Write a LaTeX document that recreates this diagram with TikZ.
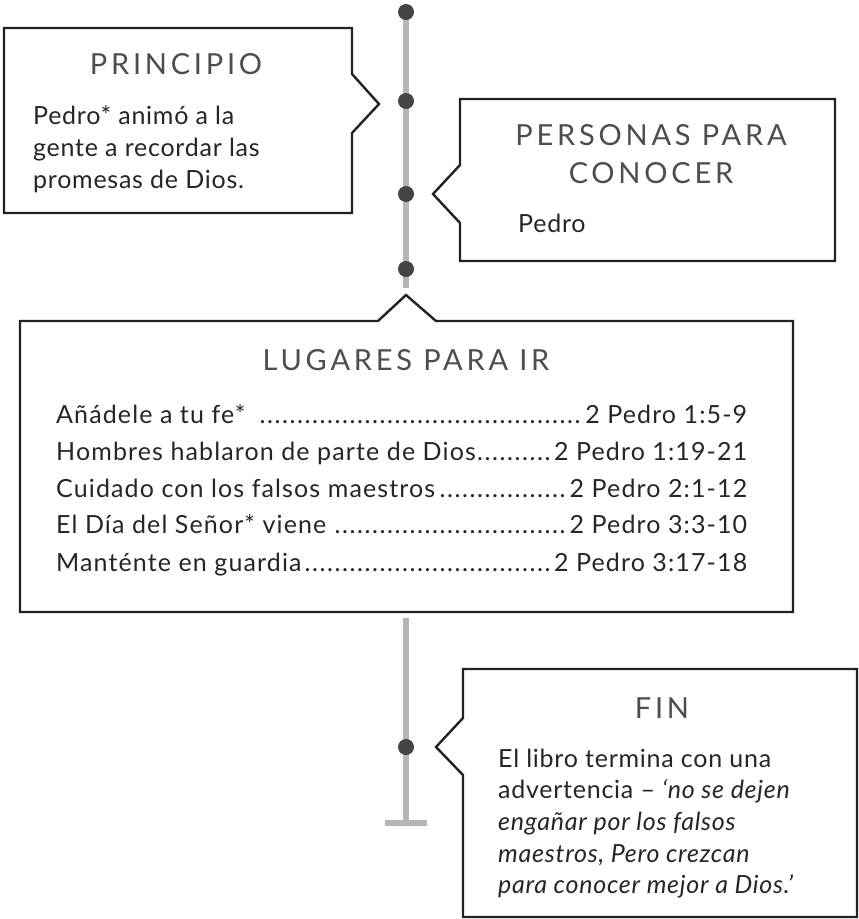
\documentclass[tikz,border=0pt]{standalone}
\usepackage{fontspec}
\setmainfont{Lato}[LetterSpace=3]
\newfontfamily\titlefont[LetterSpace=13]{Lato}
\newfontfamily\rowfont[LetterSpace=4.5]{Lato}
\newcommand\leaderdots{\leaders\hbox to 7.5pt{\hss.\hss}\hfill}
\definecolor{boxc}{HTML}{222222}
\definecolor{linec}{HTML}{B5B5B5}
\definecolor{dotc}{HTML}{444444}
\definecolor{titlec}{HTML}{4D4D4D}
\definecolor{bodyc}{HTML}{262626}
\tikzset{
  box/.style={draw=boxc, line width=2.4pt, line join=miter, fill=white},
  timeline/.style={draw=linec, line width=5.5pt},
  tdot/.style={circle, fill=dotc, inner sep=0pt, minimum size=16pt},
  ttl/.style={font=\titlefont\fontsize{29}{34}\selectfont, text=titlec, inner sep=0pt, anchor=base},
  bodytxt/.style={font=\fontsize{25}{32}\selectfont, text=bodyc, inner sep=0pt, anchor=base west},
  rowtxt/.style={font=\rowfont\fontsize{25}{30}\selectfont, text=bodyc, inner sep=0pt, anchor=base west}
}
\begin{document}
\begin{tikzpicture}[x=1pt,y=-1pt]
\useasboundingbox[fill=white] (0,0) rectangle (859,919);
% timeline
\coordinate (t1top) at (406,12);
\coordinate (t1end) at (406,288);
\coordinate (t2top) at (406,618);
\coordinate (t2bot) at (406,823);
\coordinate (capL) at (385,823);
\coordinate (capR) at (427,823);
\draw[timeline] (t1top) -- (t1end);
\draw[timeline] (t2top) -- (t2bot);
\draw[timeline] (capL) -- (capR);
\node[tdot] (d1) at (406,12) {};
\node[tdot] (d2) at (406,101) {};
\node[tdot] (d3) at (406,194) {};
\node[tdot] (d4) at (406,269) {};
\node[tdot] (d5) at (406,747) {};
% PRINCIPIO
\draw[box] (4,28) -- (352,28) -- (352,74) -- (379,104) -- (352,133) -- (352,213) -- (4,213) -- cycle;
\node[ttl] (p0) at (176,74) {PRINCIPIO};
\node[bodytxt] (p1) at (33,124) {Pedro* animó a la};
\node[bodytxt] (p2) at (33,156) {gente a recordar las};
\node[bodytxt] (p3) at (33,188) {promesas de Dios.};
% PERSONAS
\draw[box] (460,99) -- (835,99) -- (835,261) -- (460,261) -- (460,223) -- (433,194) -- (460,165) -- cycle;
\node[ttl] (q0) at (651,145) {PERSONAS PARA};
\node[ttl] (q1) at (651,183) {CONOCER};
\node[bodytxt] (q2) at (518,232) {Pedro};
% LUGARES
\draw[box] (20,321) -- (378,321) -- (406,295) -- (436,321) -- (793,321) -- (793,612) -- (20,612) -- cycle;
\node[ttl] (l0) at (406,370) {LUGARES PARA IR};
\node[rowtxt] (l1) at (56,423) {\hbox to 691pt{Añádele a tu fe* \leaderdots 2 Pedro 1:5-9}};
\node[rowtxt] (l2) at (56,460) {\hbox to 691pt{Hombres hablaron de parte de Dios\leaderdots 2 Pedro 1:19-21}};
\node[rowtxt] (l3) at (56,497) {\hbox to 691pt{Cuidado con los falsos maestros\leaderdots 2 Pedro 2:1-12}};
\node[rowtxt] (l4) at (56,533) {\hbox to 691pt{El Día del Señor* viene\leaderdots 2 Pedro 3:3-10}};
\node[rowtxt] (l5) at (56,571) {\hbox to 691pt{Manténte en guardia\leaderdots 2 Pedro 3:17-18}};
% FIN
\draw[box] (463,669) -- (857,669) -- (857,917) -- (463,917) -- (463,775) -- (436,747) -- (463,718) -- cycle;
\node[ttl] (f0) at (662,718) {FIN};
\node[bodytxt] (f1) at (498,767) {El libro termina con una};
\node[bodytxt] (f2) at (498,798) {advertencia – \textit{‘no se dejen}};
\node[bodytxt] (f3) at (498,830) {\textit{engañar por los falsos}};
\node[bodytxt] (f4) at (498,862) {\textit{maestros, Pero crezcan}};
\node[bodytxt] (f5) at (498,893) {\textit{para conocer mejor a Dios.’}};
\end{tikzpicture}
\end{document}
